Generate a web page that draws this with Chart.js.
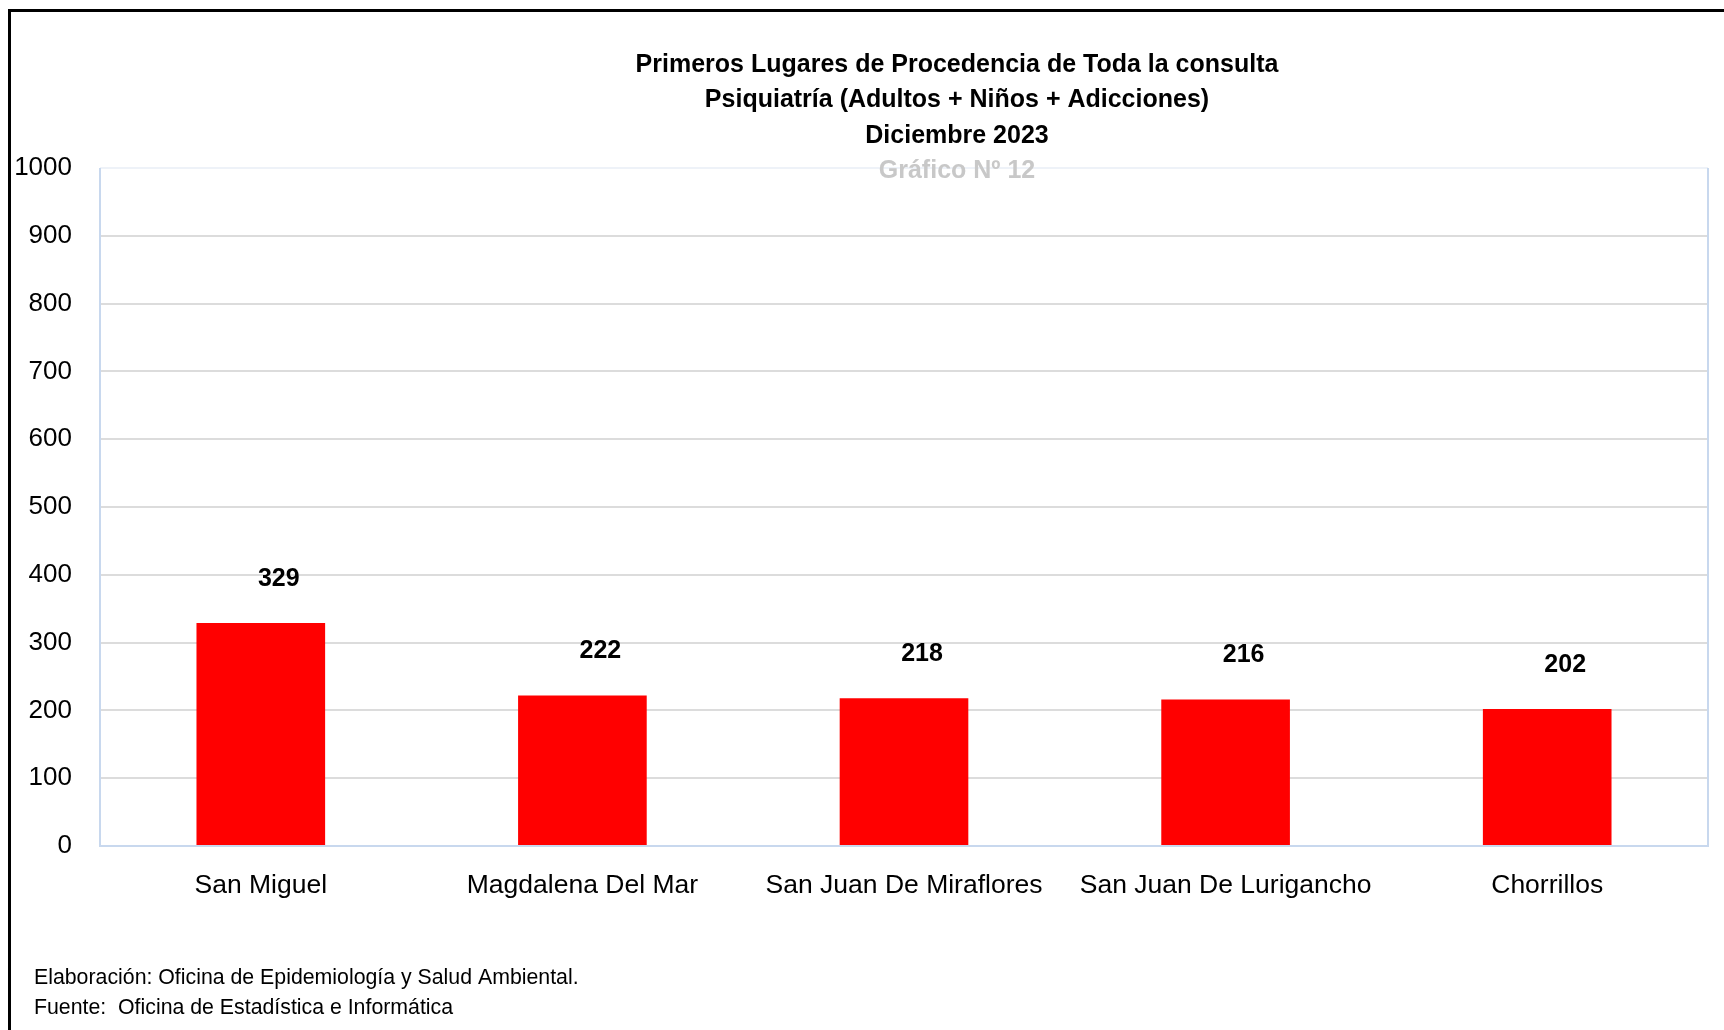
<!DOCTYPE html>
<html>
<head>
<meta charset="utf-8">
<script src="https://cdn.jsdelivr.net/npm/chart.js@4/dist/chart.umd.min.js"></script>
<style>
  html, body { margin: 0; padding: 0; background: #ffffff; }
  canvas { display: block; }
</style>
</head>
<body>
<canvas id="chart" width="1724" height="1030"></canvas>
<script>
// ---- Data ----
const categories = ["San Miguel", "Magdalena Del Mar", "San Juan De Miraflores", "San Juan De Lurigancho", "Chorrillos"];
const values = [329, 222, 218, 216, 202];
const yMin = 0;
const yMax = 1000;
const yStep = 100;
const titleLines = [
  "Primeros Lugares de Procedencia de Toda la consulta",
  "Psiquiatría (Adultos + Niños + Adicciones)",
  "Diciembre 2023"
];
const chartNumber = "Gráfico Nº 12";
const footerLines = [
  "Elaboración: Oficina de Epidemiología y Salud Ambiental.",
  "Fuente:  Oficina de Estadística e Informática"
];

const FONT = "'Liberation Sans', Arial, sans-serif";

const decorPlugin = {
  id: 'decor',
  beforeDraw(chart) {
    const ctx = chart.ctx;
    ctx.save();
    ctx.fillStyle = '#ffffff';
    ctx.fillRect(0, 0, chart.width, chart.height);
    // outer frame (extends past right and bottom edges)
    ctx.strokeStyle = '#000000';
    ctx.lineWidth = 3;
    ctx.strokeRect(9.5, 10.5, chart.width + 20, chart.height + 20);
    ctx.restore();
  },
  beforeDatasetsDraw(chart) {
    const ctx = chart.ctx;
    const a = chart.chartArea;
    ctx.save();
    ctx.lineWidth = 2;
    ctx.strokeStyle = '#eef2f8';
    ctx.beginPath();
    ctx.moveTo(a.left, a.top);
    ctx.lineTo(a.right, a.top);
    ctx.stroke();
    ctx.strokeStyle = '#c8d8ee';
    ctx.beginPath();
    ctx.moveTo(a.left, a.top);
    ctx.lineTo(a.left, a.bottom);
    ctx.lineTo(a.right, a.bottom);
    ctx.lineTo(a.right, a.top);
    ctx.stroke();
    ctx.restore();
  },
  afterDatasetsDraw(chart) {
    const ctx = chart.ctx;
    const meta = chart.getDatasetMeta(0);
    ctx.save();
    ctx.font = 'bold 25px ' + FONT;
    ctx.fillStyle = '#000000';
    ctx.textAlign = 'center';
    ctx.textBaseline = 'middle';
    meta.data.forEach((bar, i) => {
      ctx.fillText(String(values[i]), bar.x + 18, bar.y - 44);
    });
    ctx.restore();
  },
  afterDraw(chart) {
    const ctx = chart.ctx;
    ctx.save();
    ctx.textAlign = 'center';
    ctx.textBaseline = 'middle';
    ctx.font = 'bold 25px ' + FONT;
    ctx.fillStyle = '#000000';
    const cx = 957;
    titleLines.forEach((t, i) => ctx.fillText(t, cx, 65 + i * 35.5));
    ctx.fillStyle = '#c8c8c8';
    ctx.fillText(chartNumber, cx, 65 + 3 * 35.5);
    ctx.textAlign = 'left';
    ctx.font = '21.3px ' + FONT;
    ctx.fillStyle = '#000000';
    footerLines.forEach((t, i) => ctx.fillText(t, 34, 978 + i * 30));
    ctx.restore();
  }
};

new Chart(document.getElementById('chart'), {
  type: 'bar',
  data: {
    labels: categories,
    datasets: [{
      data: values,
      backgroundColor: '#ff0000',
      borderWidth: 0,
      categoryPercentage: 1.0,
      barPercentage: 0.4
    }]
  },
  options: {
    responsive: false,
    animation: false,
    devicePixelRatio: 1,
    layout: { padding: { left: 0, top: 168, right: 16, bottom: 0 } },
    plugins: {
      legend: { display: false },
      title: { display: false },
      tooltip: { enabled: false }
    },
    scales: {
      x: {
        grid: { display: false, drawTicks: false },
        border: { display: false },
        ticks: {
          color: '#000000',
          font: { family: FONT, size: 26.5 },
          padding: 24,
          maxRotation: 0,
          autoSkip: false
        },
        afterFit(scale) { scale.height = 1030 - 846; }
      },
      y: {
        min: yMin,
        max: yMax,
        grid: {
          drawTicks: false,
          lineWidth: 2,
          color: (c) => (c.tick && c.tick.value === yMax) ? '#eef2f8' : (c.tick && c.tick.value === yMin ? 'rgba(0,0,0,0)' : '#dcdcdc')
        },
        border: { display: false },
        ticks: {
          stepSize: yStep,
          color: '#000000',
          font: { family: FONT, size: 26 },
          padding: 28,
          callback: (v) => String(v)
        },
        afterFit(scale) { scale.width = 100; }
      }
    }
  },
  plugins: [decorPlugin]
});
</script>
</body>
</html>
